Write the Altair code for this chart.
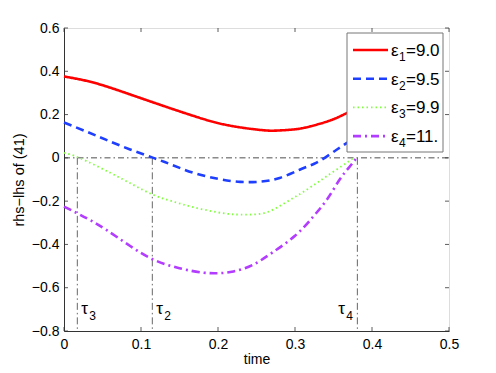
import altair as alt
import pandas as pd

# ---- data ----
red_x = [0, 0.038, 0.081, 0.125, 0.168, 0.211, 0.255, 0.276, 0.3, 0.319, 0.345, 0.365, 0.38]
red_y = [0.376, 0.348, 0.299, 0.245, 0.194, 0.152, 0.129, 0.126, 0.132, 0.145, 0.172, 0.203, 0.228]

blue_x = [0, 0.03, 0.055, 0.085, 0.116, 0.14, 0.168, 0.2, 0.229, 0.255, 0.28, 0.306, 0.325, 0.341, 0.355, 0.367, 0.38]
blue_y = [0.163, 0.12, 0.083, 0.04, 0.0, -0.032, -0.069, -0.097, -0.111, -0.11, -0.093, -0.055, -0.027, 0.006, 0.04, 0.068, 0.1]

green_x = [0, 0.02, 0.06, 0.09, 0.116, 0.14, 0.168, 0.2, 0.22, 0.24, 0.263, 0.285, 0.306, 0.325, 0.341, 0.36, 0.376]
green_y = [0.023, 0.0, -0.069, -0.125, -0.171, -0.2, -0.228, -0.252, -0.261, -0.262, -0.252, -0.212, -0.168, -0.124, -0.085, -0.04, 0.0]

purple_x = [0, 0.03, 0.055, 0.085, 0.116, 0.15, 0.18, 0.2, 0.22, 0.245, 0.27, 0.3, 0.324, 0.342, 0.358, 0.37, 0.38]
purple_y = [-0.225, -0.28, -0.333, -0.405, -0.47, -0.51, -0.53, -0.533, -0.525, -0.495, -0.439, -0.36, -0.27, -0.19, -0.10, -0.045, 0.0]

series_sub = ["1", "2", "3", "4"]
series_val = ["9.0", "9.5", "9.9", "11."]
series_col = ["#ff0000", "#1f3fff", "#80ff40", "#b23cff"]
series_dash = [[1, 0], [8, 5], [1.5, 3], [8, 4, 2, 4]]
series_w = [2.6, 2.6, 1.8, 2.6]

tau_x = [0.0173, 0.1147, 0.381]
tau_sub = ["3", "2", "4"]
tau_dx = [4, 4, -19]

x_ticks = [0, 0.1, 0.2, 0.3, 0.4, 0.5]
y_ticks = [-0.8, -0.6, -0.4, -0.2, 0, 0.2, 0.4, 0.6]

W, H = 385, 303
FONT = "Liberation Sans"

xs = alt.Scale(domain=[0, 0.5], nice=False, zero=False)
ys = alt.Scale(domain=[-0.8, 0.6], nice=False, zero=False)

one = pd.DataFrame({"a": [0]})

layers = []

axis_x = alt.Axis(values=x_ticks, tickSize=0, grid=False, labelFont=FONT, labelFontSize=14,
                  labelColor="black", labelPadding=6, labelFlush=False, labelOverlap=False,
                  title="time", titleFont=FONT,
                  titleFontSize=14, titleFontWeight="normal", titleColor="black",
                  titlePadding=1, domainColor="#333", format="~g")
axis_y = alt.Axis(values=y_ticks, tickSize=0, grid=False, labelFont=FONT, labelFontSize=14,
                  labelColor="black", labelPadding=5, labelFlush=False, labelOverlap=False,
                  title="rhs\u2212lhs of (41)", titleFont=FONT,
                  titleFontSize=14.5, titleFontWeight="normal", titleColor="black",
                  titlePadding=5, domainColor="#333", format="~g")

# zero line
zero_df = pd.DataFrame({"x": [0], "x2": [0.5], "y": [0]})
layers.append(alt.Chart(zero_df).mark_rule(color="#222", strokeWidth=0.8, strokeDash=[6, 3, 1.5, 3]).encode(
    x=alt.X("x:Q", scale=xs, axis=axis_x), x2="x2:Q",
    y=alt.Y("y:Q", scale=ys, axis=axis_y)))

# vertical tau lines
tau_df = pd.DataFrame({"x": tau_x, "y": [0] * 3, "y2": [-0.8] * 3, "sub": tau_sub, "dx": tau_dx})
layers.append(alt.Chart(tau_df).mark_rule(color="#555", strokeWidth=0.9, strokeDash=[7, 3, 1.5, 3]).encode(
    x=alt.X("x:Q", scale=xs), y=alt.Y("y:Q", scale=ys), y2="y2:Q"))

# curves
all_x = [red_x, blue_x, green_x, purple_x]
all_y = [red_y, blue_y, green_y, purple_y]
for i in range(4):
    df = pd.DataFrame({"x": all_x[i], "y": all_y[i]})
    layers.append(alt.Chart(df).mark_line(color=series_col[i], strokeWidth=series_w[i],
                                          strokeDash=series_dash[i], interpolate="natural").encode(
        x=alt.X("x:Q", scale=xs), y=alt.Y("y:Q", scale=ys)))

# inward ticks
xt = pd.DataFrame({"x": x_ticks})
yt = pd.DataFrame({"y": y_ticks})
tick_col = "#333"
layers.append(alt.Chart(xt).mark_rule(color=tick_col, strokeWidth=0.8).encode(
    x=alt.X("x:Q", scale=xs), y=alt.value(H), y2=alt.value(H - 4)))
layers.append(alt.Chart(xt).mark_rule(color=tick_col, strokeWidth=0.8).encode(
    x=alt.X("x:Q", scale=xs), y=alt.value(0), y2=alt.value(4)))
layers.append(alt.Chart(yt).mark_rule(color=tick_col, strokeWidth=0.8).encode(
    y=alt.Y("y:Q", scale=ys), x=alt.value(0), x2=alt.value(4)))
layers.append(alt.Chart(yt).mark_rule(color=tick_col, strokeWidth=0.8).encode(
    y=alt.Y("y:Q", scale=ys), x=alt.value(W), x2=alt.value(W - 4)))

# tau labels
for i in range(3):
    d = tau_df.iloc[[i]]
    layers.append(alt.Chart(d).mark_text(text="\u03c4", font=FONT, fontSize=17, align="left",
                                         baseline="alphabetic", dx=tau_dx[i], color="black").encode(
        x=alt.X("x:Q", scale=xs), y=alt.value(H - 17)))
    layers.append(alt.Chart(d).mark_text(font=FONT, fontSize=12, align="left",
                                         baseline="alphabetic", dx=tau_dx[i] + 8, color="black").encode(
        x=alt.X("x:Q", scale=xs), y=alt.value(H - 11), text="sub:N"))

# legend box
LX0, LX1, LY0, LY1 = 283, 379, 5, 124
layers.append(alt.Chart(one).mark_rect(fill="white", stroke="#777", strokeWidth=1).encode(
    x=alt.value(LX0), x2=alt.value(LX1), y=alt.value(LY0), y2=alt.value(LY1)))
row0, step = 22, 28.7
for i in range(4):
    ry = row0 + i * step
    layers.append(alt.Chart(one).mark_rule(color=series_col[i], strokeWidth=series_w[i],
                                           strokeDash=series_dash[i]).encode(
        x=alt.value(289), x2=alt.value(324), y=alt.value(ry)))
    layers.append(alt.Chart(one).mark_text(text="\u03b5", font=FONT, fontSize=17, align="left",
                                           baseline="alphabetic", color="black").encode(
        x=alt.value(327), y=alt.value(ry + 6)))
    layers.append(alt.Chart(one).mark_text(text=series_sub[i], font=FONT, fontSize=12, align="left",
                                           baseline="alphabetic", color="black").encode(
        x=alt.value(335), y=alt.value(ry + 11)))
    layers.append(alt.Chart(one).mark_text(text="=" + series_val[i], font=FONT, fontSize=17, align="left",
                                           baseline="alphabetic", color="black").encode(
        x=alt.value(342), y=alt.value(ry + 6)))

chart = alt.layer(*layers).properties(
    width=W, height=H,
    autosize=alt.AutoSizeParams(type="none"),
    padding={"left": 56, "top": 20, "right": 30, "bottom": 34},
).configure_view(stroke="#333", strokeWidth=1).configure(background="white")

chart.save("out.html", embed_options={"renderer": "svg", "actions": False})
